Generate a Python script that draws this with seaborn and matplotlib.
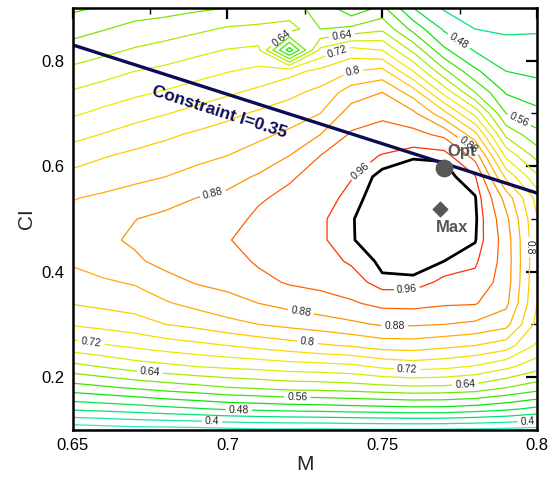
import numpy as np
import matplotlib
matplotlib.use("Agg")
import matplotlib.pyplot as plt
from matplotlib.colors import LinearSegmentedColormap
import seaborn as sns

# ------------------------------------------------------------
# Values
# ------------------------------------------------------------
m_grid = [0.65, 0.66, 0.67, 0.68, 0.69, 0.70, 0.71, 0.72,
          0.73, 0.74, 0.75, 0.76, 0.77, 0.78, 0.79, 0.80]
ci_grid = [0.10, 0.14, 0.18, 0.22, 0.26, 0.30, 0.34, 0.38, 0.42, 0.46, 0.50,
           0.54, 0.58, 0.62, 0.66, 0.70, 0.74, 0.78, 0.82, 0.86, 0.90]

# one inner list per M column, CI going from 0.10 up to 0.90
score = [
    [0.332, 0.447, 0.542, 0.627, 0.704, 0.764, 0.802, 0.826, 0.845, 0.858, 0.852,
     0.838, 0.812, 0.781, 0.747, 0.715, 0.684, 0.650, 0.617, 0.584, 0.553],
    [0.337, 0.453, 0.553, 0.643, 0.716, 0.773, 0.810, 0.835, 0.860, 0.872, 0.866,
     0.846, 0.822, 0.797, 0.762, 0.729, 0.700, 0.663, 0.630, 0.598, 0.564],
    [0.342, 0.460, 0.565, 0.660, 0.728, 0.783, 0.817, 0.844, 0.873, 0.886, 0.879,
     0.854, 0.832, 0.809, 0.778, 0.744, 0.712, 0.680, 0.644, 0.612, 0.580],
    [0.343, 0.469, 0.577, 0.670, 0.740, 0.800, 0.836, 0.865, 0.893, 0.905, 0.890,
     0.865, 0.840, 0.818, 0.793, 0.758, 0.724, 0.690, 0.656, 0.620, 0.585],
    [0.345, 0.477, 0.587, 0.680, 0.750, 0.811, 0.852, 0.883, 0.900, 0.915, 0.900,
     0.880, 0.853, 0.829, 0.806, 0.773, 0.739, 0.704, 0.669, 0.632, 0.593],
    [0.349, 0.486, 0.598, 0.687, 0.760, 0.827, 0.867, 0.891, 0.905, 0.918, 0.905,
     0.888, 0.867, 0.840, 0.817, 0.790, 0.753, 0.718, 0.682, 0.645, 0.600],
    [0.353, 0.490, 0.605, 0.693, 0.772, 0.840, 0.880, 0.909, 0.925, 0.933, 0.928,
     0.915, 0.884, 0.857, 0.831, 0.806, 0.770, 0.730, 0.688, 0.650, 0.606],
    [0.353, 0.495, 0.613, 0.700, 0.783, 0.851, 0.893, 0.924, 0.938, 0.945, 0.943,
     0.930, 0.915, 0.880, 0.848, 0.820, 0.790, 0.747, 0.500, 0.660, 0.610],
    [0.353, 0.498, 0.615, 0.704, 0.795, 0.860, 0.905, 0.930, 0.945, 0.955, 0.955,
     0.945, 0.935, 0.920, 0.880, 0.840, 0.811, 0.771, 0.690, 0.600, 0.590],
    [0.355, 0.502, 0.620, 0.710, 0.804, 0.872, 0.915, 0.943, 0.965, 0.978, 0.978,
     0.970, 0.958, 0.945, 0.925, 0.898, 0.860, 0.800, 0.735, 0.610, 0.530],
    [0.356, 0.505, 0.627, 0.727, 0.818, 0.884, 0.931, 0.976, 0.985, 0.995, 0.998,
     0.995, 0.990, 0.962, 0.935, 0.912, 0.880, 0.813, 0.720, 0.632, 0.570],
    [0.356, 0.509, 0.632, 0.736, 0.820, 0.884, 0.933, 0.975, 0.990, 1.000, 1.000,
     1.000, 0.990, 0.978, 0.933, 0.889, 0.821, 0.720, 0.630, 0.547, 0.480],
    [0.355, 0.508, 0.630, 0.730, 0.810, 0.880, 0.925, 0.952, 0.980, 0.995, 1.000,
     1.000, 0.990, 0.976, 0.910, 0.813, 0.707, 0.610, 0.528, 0.474, 0.435],
    [0.353, 0.500, 0.623, 0.716, 0.800, 0.872, 0.923, 0.948, 0.966, 0.982, 0.985,
     0.982, 0.963, 0.904, 0.813, 0.707, 0.600, 0.528, 0.476, 0.440, 0.420],
    [0.350, 0.489, 0.600, 0.690, 0.780, 0.853, 0.890, 0.900, 0.902, 0.900, 0.890,
     0.864, 0.790, 0.710, 0.630, 0.560, 0.516, 0.480, 0.453, 0.435, 0.420],
    [0.345, 0.471, 0.578, 0.656, 0.713, 0.748, 0.760, 0.765, 0.768, 0.768, 0.762,
     0.745, 0.688, 0.625, 0.571, 0.533, 0.495, 0.473, 0.451, 0.437, 0.425],
]

plain_levels = [0.36, 0.44, 0.52, 0.60, 0.68, 0.76, 0.84, 0.92]
label_levels = [0.40, 0.48, 0.56, 0.64, 0.72, 0.80, 0.88, 0.96]
best_level = 0.98

# constraint line end points
constraint_m = [0.65, 0.80]
constraint_ci = [0.830, 0.549]

# optimum and maximum
opt_m, opt_ci = 0.7698, 0.597
max_m, max_ci = 0.7685, 0.519

# where the contour labels sit
label_spots = [
    (0.716, 0.853), (0.737, 0.845), (0.7357, 0.815), (0.7405, 0.780),
    (0.7747, 0.837), (0.7945, 0.691), (0.778, 0.640), (0.695, 0.555),
    (0.744, 0.584), (0.758, 0.371), (0.7975, 0.447), (0.7236, 0.320),
    (0.754, 0.296), (0.7258, 0.264), (0.656, 0.263), (0.758, 0.211),
    (0.675, 0.208), (0.7768, 0.182), (0.7226, 0.159), (0.7037, 0.137),
    (0.695, 0.113), (0.797, 0.118),
]

# ------------------------------------------------------------
# Plot
# ------------------------------------------------------------
sns.set_theme(style="white")
plt.rcParams["font.family"] = ["Liberation Sans", "DejaVu Sans"]

fig = plt.figure(figsize=(5.5, 4.83), dpi=100)
ax = fig.add_axes([0.132, 0.11, 0.8445, 0.8735])
ax.set_xlim(0.65, 0.80)
ax.set_ylim(0.10, 0.90)

M, CI = np.meshgrid(m_grid, ci_grid)
Z = np.array(score).T

cmap = LinearSegmentedColormap.from_list(
    "fit", ["#30e8c8", "#00e070", "#10e400", "#90e800", "#e8f000", "#ffd000",
            "#ff9800", "#ff3000"])
lo, hi = 0.36, 0.96


def level_colors(lvls):
    return [cmap((lv - lo) / (hi - lo)) for lv in lvls]


ax.contour(M, CI, Z, levels=plain_levels, colors=level_colors(plain_levels),
           linewidths=0.9)
cs = ax.contour(M, CI, Z, levels=label_levels, colors=level_colors(label_levels),
                linewidths=0.9)
ax.contour(M, CI, Z, levels=[best_level], colors="black", linewidths=2.0)

ax.clabel(cs, manual=label_spots, inline=True, inline_spacing=3,
          fontsize=7.5, colors="#222222",
          fmt=lambda v: f"{v:.2f}".rstrip("0").rstrip("."))

navy = "#0c0c55"
sns.lineplot(x=constraint_m, y=constraint_ci, color=navy, linewidth=2.4,
             ax=ax, legend=False)

fig.canvas.draw()
p0 = ax.transData.transform((constraint_m[0], constraint_ci[0]))
p1 = ax.transData.transform((constraint_m[1], constraint_ci[1]))
angle = np.degrees(np.arctan2(p1[1] - p0[1], p1[0] - p0[0]))
ax.text(0.6975, 0.703, "Constraint I=0.35", color=navy, fontsize=12.5,
        fontweight="bold", rotation=angle, rotation_mode="anchor",
        ha="center", va="center")

gray = "#575757"
sns.scatterplot(x=[opt_m], y=[opt_ci], marker="o", s=140, color=gray,
                edgecolor=gray, ax=ax, zorder=5)
sns.scatterplot(x=[max_m], y=[max_ci], marker="D", s=60, color=gray,
                edgecolor=gray, ax=ax, zorder=5)
ax.text(0.7755, 0.627, "Opt", color=gray, fontsize=12, fontweight="bold",
        ha="center", va="center")
ax.text(0.7725, 0.484, "Max", color=gray, fontsize=12, fontweight="bold",
        ha="center", va="center")

ax.set_xlim(0.65, 0.80)
ax.set_ylim(0.10, 0.90)
ax.set_xticks([0.65, 0.70, 0.75, 0.80])
ax.set_xticklabels(["0.65", "0.7", "0.75", "0.8"])
ax.set_xticks([0.675, 0.725, 0.775], minor=True)
ax.set_yticks([0.2, 0.4, 0.6, 0.8])
ax.set_yticklabels(["0.2", "0.4", "0.6", "0.8"])
ax.set_yticks([0.1, 0.3, 0.5, 0.7, 0.9], minor=True)
ax.tick_params(which="both", direction="in", top=True, right=True,
               colors="black", labelsize=12)
ax.tick_params(which="major", length=8, width=1.6, pad=6)
ax.tick_params(which="minor", length=4, width=1.0)
for sp in ax.spines.values():
    sp.set_color("black")
    sp.set_linewidth(1.8)

ax.set_xlabel("M", fontsize=15, labelpad=1)
ax.set_ylabel("CI", fontsize=15, labelpad=4)

fig.savefig("out.png", dpi=100)
